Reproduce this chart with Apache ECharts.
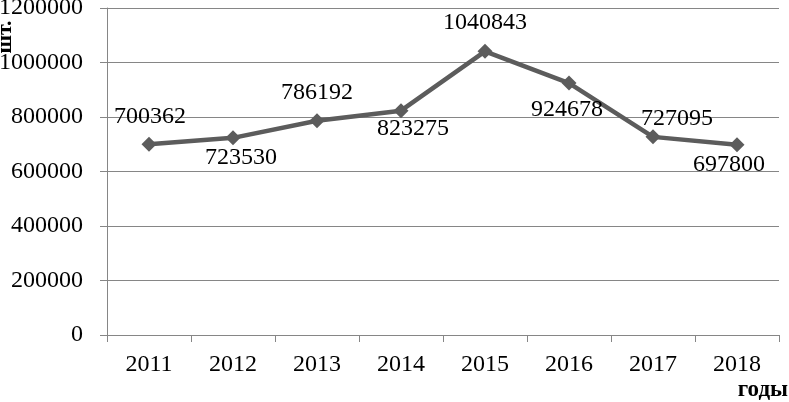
<!DOCTYPE html>
<html>
<head>
<meta charset="utf-8">
<script src="https://cdn.jsdelivr.net/npm/echarts@6/dist/echarts.min.js"></script>
<style>
  html, body { margin: 0; padding: 0; background: #fff; }
  #main { width: 789px; height: 402px; }
</style>
</head>
<body>
<div id="main"></div>
<script>
// годы и выпуск, шт.
var years = ['2011', '2012', '2013', '2014', '2015', '2016', '2017', '2018']
var values = [700362, 723530, 786192, 823275, 1040843, 924678, 727095, 697800]
var yTicks = [0, 200000, 400000, 600000, 800000, 1000000, 1200000]

// сдвиг подписей относительно точек (как в исходной диаграмме)
var labelShift = [[1, -27], [8, 20], [0, -28], [12, 18], [0, -29], [-2, 27], [24, -18], [-8, 20]]

var font = '"Liberation Serif", "Times New Roman", serif'
var myChart = echarts.init(document.getElementById('main'))

var option = {
  backgroundColor: '#fff',
  animation: false,
  grid: { left: 107, right: 10, top: 8, bottom: 67, containLabel: false, outerBoundsMode: 'none' },
  xAxis: {
    type: 'category',
    data: years,
    boundaryGap: true,
    axisLine: { lineStyle: { color: '#868686', width: 1 } },
    axisTick: { show: true, length: 7, lineStyle: { color: '#868686' } },
    axisLabel: { color: '#000', fontFamily: font, fontSize: 24, margin: 18 }
  },
  yAxis: {
    type: 'value',
    min: yTicks[0],
    max: yTicks[yTicks.length - 1],
    interval: yTicks[1] - yTicks[0],
    axisLine: { show: true, lineStyle: { color: '#868686', width: 1 } },
    axisTick: { show: true, length: 7, lineStyle: { color: '#868686' } },
    splitLine: { lineStyle: { color: '#868686', width: 1 } },
    axisLabel: {
      color: '#000',
      fontFamily: font,
      fontSize: 24,
      margin: 24,
      formatter: function (v) { return String(v) }
    }
  },
  graphic: [
    {
      type: 'text',
      x: 5,
      y: 37,
      rotation: Math.PI / 2,
      style: {
        text: 'шт.',
        fontFamily: font,
        fontWeight: 'bold',
        fontSize: 22,
        fill: '#000',
        textAlign: 'center',
        textVerticalAlign: 'middle'
      }
    },
    {
      type: 'text',
      x: 788,
      y: 390,
      style: {
        text: 'годы',
        fontFamily: font,
        fontWeight: 'bold',
        fontSize: 23,
        fill: '#000',
        textAlign: 'right',
        textVerticalAlign: 'middle'
      }
    }
  ],
  series: [
    {
      type: 'line',
      data: values.map(function (v, i) {
        return {
          value: v,
          label: { offset: labelShift[i] }
        }
      }),
      symbol: 'diamond',
      symbolSize: 15,
      lineStyle: { color: '#5c5c5c', width: 4.5 },
      itemStyle: { color: '#5c5c5c' },
      label: {
        show: true,
        position: 'inside',
        color: '#000',
        fontFamily: font,
        fontSize: 24
      }
    }
  ]
}

myChart.setOption(option)
</script>
</body>
</html>
